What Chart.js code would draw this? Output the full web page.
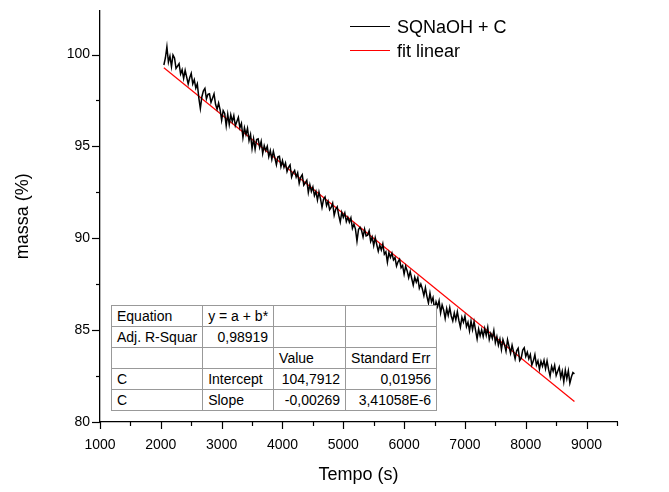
<!DOCTYPE html>
<html>
<head>
<meta charset="utf-8">
<script src="https://cdn.jsdelivr.net/npm/chart.js@4.4.1/dist/chart.umd.min.js"></script>
<style>
  body { margin: 0; background: #fff; font-family: "Liberation Sans", Arial, sans-serif; }
  #wrap { position: relative; width: 669px; height: 492px; }
  #legenda { position: absolute; left: 350px; top: 15px; font-size: 18px; color: #000; }
  .item { position: absolute; left: 0; height: 24px; width: 200px; }
  .linha { position: absolute; left: 0; top: 11px; width: 40px; border-top: 1px solid #000; }
  .txt { position: absolute; left: 47px; top: 0; line-height: 24px; white-space: nowrap; }
  #tabela { position: absolute; left: 111px; top: 305px; border-collapse: collapse; table-layout: fixed;
            font-size: 14px; background: #fff; border: 1.5px solid #333; }
  #tabela td { border: 1px solid #999; height: 20px; padding: 0 5px; white-space: nowrap; overflow: hidden; line-height: 20px; }
  #tabela td.num { text-align: right; }
</style>
</head>
<body>
<div id="wrap">
  <canvas id="grafico" width="669" height="492"></canvas>
  <div id="legenda"></div>
  <table id="tabela"></table>
</div>
<script>
// dados (tempo em s, massa em %)
const tempo = [
  2050, 2075, 2100, 2125, 2150, 2175, 2200, 2225, 2250, 2275,
  2300, 2325, 2350, 2375, 2400, 2425, 2450, 2475, 2500, 2525,
  2550, 2575, 2600, 2625, 2650, 2675, 2700, 2725, 2750, 2775,
  2800, 2825, 2850, 2875, 2900, 2925, 2950, 2975, 3000, 3025,
  3050, 3075, 3100, 3125, 3150, 3175, 3200, 3225, 3250, 3275,
  3300, 3325, 3350, 3375, 3400, 3425, 3450, 3475, 3500, 3525,
  3550, 3575, 3600, 3625, 3650, 3675, 3700, 3725, 3750, 3775,
  3800, 3825, 3850, 3875, 3900, 3925, 3950, 3975, 4000, 4025,
  4050, 4075, 4100, 4125, 4150, 4175, 4200, 4225, 4250, 4275,
  4300, 4325, 4350, 4375, 4400, 4425, 4450, 4475, 4500, 4525,
  4550, 4575, 4600, 4625, 4650, 4675, 4700, 4725, 4750, 4775,
  4800, 4825, 4850, 4875, 4900, 4925, 4950, 4975, 5000, 5025,
  5050, 5075, 5100, 5125, 5150, 5175, 5200, 5225, 5250, 5275,
  5300, 5325, 5350, 5375, 5400, 5425, 5450, 5475, 5500, 5525,
  5550, 5575, 5600, 5625, 5650, 5675, 5700, 5725, 5750, 5775,
  5800, 5825, 5850, 5875, 5900, 5925, 5950, 5975, 6000, 6025,
  6050, 6075, 6100, 6125, 6150, 6175, 6200, 6225, 6250, 6275,
  6300, 6325, 6350, 6375, 6400, 6425, 6450, 6475, 6500, 6525,
  6550, 6575, 6600, 6625, 6650, 6675, 6700, 6725, 6750, 6775,
  6800, 6825, 6850, 6875, 6900, 6925, 6950, 6975, 7000, 7025,
  7050, 7075, 7100, 7125, 7150, 7175, 7200, 7225, 7250, 7275,
  7300, 7325, 7350, 7375, 7400, 7425, 7450, 7475, 7500, 7525,
  7550, 7575, 7600, 7625, 7650, 7675, 7700, 7725, 7750, 7775,
  7800, 7825, 7850, 7875, 7900, 7925, 7950, 7975, 8000, 8025,
  8050, 8075, 8100, 8125, 8150, 8175, 8200, 8225, 8250, 8275,
  8300, 8325, 8350, 8375, 8400, 8425, 8450, 8475, 8500, 8525,
  8550, 8575, 8600, 8625, 8650, 8675, 8700, 8725, 8750, 8775,
  8800];

const massa = [
  99.43, 99.81, 100.42, 99.58, 99.91, 99.34, 99.97, 99.81, 99.24, 99.37,
  99.50, 98.94, 99.17, 98.70, 99.14, 98.77, 98.40, 98.73, 98.97, 98.40,
  98.63, 98.17, 98.40, 97.63, 97.06, 97.70, 98.03, 98.16, 97.59, 97.83,
  97.86, 97.39, 97.62, 97.86, 97.29, 97.02, 97.36, 96.99, 96.42, 96.95,
  96.79, 96.12, 96.75, 96.19, 96.72, 96.35, 96.68, 96.12, 96.35, 96.58,
  96.01, 96.25, 95.48, 96.01, 95.65, 95.98, 95.31, 95.64, 94.88, 95.41,
  94.84, 95.37, 95.41, 94.94, 95.27, 94.61, 95.04, 94.77, 95.00, 94.44,
  94.77, 94.30, 94.73, 94.37, 94.00, 94.43, 94.46, 93.90, 94.23, 93.86,
  94.10, 93.63, 93.86, 93.99, 93.33, 93.56, 93.69, 93.33, 93.56, 92.99,
  93.32, 93.46, 92.89, 93.02, 93.16, 92.49, 92.92, 92.55, 92.79, 92.32,
  92.55, 92.08, 92.52, 92.15, 91.68, 92.12, 92.25, 91.78, 92.01, 91.55,
  91.68, 91.91, 91.25, 91.58, 91.71, 91.24, 90.88, 91.41, 91.14, 91.38,
  90.91, 91.14, 90.87, 91.11, 90.54, 90.77, 90.50, 89.84, 90.47, 90.60,
  90.43, 90.07, 90.50, 90.13, 90.17, 90.40, 89.83, 90.06, 89.60, 90.03,
  89.66, 89.29, 89.63, 89.36, 89.69, 89.13, 89.26, 88.69, 89.22, 88.96,
  89.19, 88.82, 88.95, 88.49, 88.72, 88.85, 88.39, 88.52, 88.05, 88.48,
  88.22, 87.85, 88.18, 87.81, 87.45, 87.88, 87.61, 87.85, 87.28, 87.51,
  87.24, 86.88, 87.31, 86.84, 86.48, 87.01, 86.54, 86.77, 86.11, 86.54,
  86.27, 86.60, 85.94, 86.37, 86.10, 85.64, 86.17, 85.80, 86.23, 85.77,
  85.50, 85.93, 85.56, 86.00, 85.53, 85.16, 85.70, 85.43, 85.76, 85.19,
  85.43, 84.96, 85.49, 85.03, 85.46, 84.99, 84.52, 85.06, 84.69, 85.02,
  84.65, 85.09, 84.72, 85.15, 84.49, 84.82, 84.55, 84.98, 84.32, 84.65,
  84.18, 84.51, 83.95, 84.48, 84.21, 83.85, 84.48, 84.11, 83.74, 84.18,
  83.81, 83.44, 83.87, 84.01, 83.34, 83.47, 83.91, 84.04, 83.57, 83.80,
  83.44, 83.67, 83.10, 83.33, 83.67, 83.10, 83.33, 82.87, 83.30, 83.03,
  83.36, 82.90, 83.33, 82.86, 82.50, 83.03, 82.76, 83.09, 82.53, 82.76,
  82.99, 82.42, 82.76, 82.19, 82.82, 82.36, 82.79, 82.12, 82.45, 82.69,
  82.62];

// reta do ajuste linear (extremos)
const fitTempo = [2050, 8800];
const fitMassa = [99.28, 81.12];

const xTicks = [1000, 2000, 3000, 4000, 5000, 6000, 7000, 8000, 9000];
const xMinor = [1500, 2500, 3500, 4500, 5500, 6500, 7500, 8500, 9500];
const yTicks = [80, 85, 90, 95, 100];
const yMinor = [82.5, 87.5, 92.5, 97.5];

const series = ['SQNaOH + C', 'fit linear'];
const cores = ['#000000', '#ff0000'];

const tabela = [
  [['Equation', ''], ['y = a + b*', ''], ['', ''], ['', '']],
  [['Adj. R-Squar', ''], ['0,98919', 'num'], ['', ''], ['', '']],
  [['', ''], ['', ''], ['Value', ''], ['Standard Err', '']],
  [['C', ''], ['Intercept', ''], ['104,7912', 'num'], ['0,01956', 'num']],
  [['C', ''], ['Slope', ''], ['-0,00269', 'num'], ['3,41058E-6', 'num']]
];
const larguras = [90, 68, 72, 91];

// legenda
const leg = document.getElementById('legenda');
series.forEach((nome, i) => {
  const d = document.createElement('div');
  d.className = 'item';
  d.style.top = (i * 24) + 'px';
  d.innerHTML = '<span class="linha" style="border-color:' + cores[i] + '"></span><span class="txt">' + nome + '</span>';
  leg.appendChild(d);
});

// tabela do ajuste
const tab = document.getElementById('tabela');
const cg = document.createElement('colgroup');
larguras.forEach(w => { const c = document.createElement('col'); c.style.width = w + 'px'; cg.appendChild(c); });
tab.appendChild(cg);
tabela.forEach(linha => {
  const tr = document.createElement('tr');
  linha.forEach(cel => {
    const td = document.createElement('td');
    td.textContent = cel[0];
    if (cel[1]) td.className = cel[1];
    tr.appendChild(td);
  });
  tab.appendChild(tr);
});

// ticks (maiores e menores) desenhados pelas escalas
const marcas = {
  id: 'marcas',
  afterDraw(chart) {
    const ctx = chart.ctx;
    const x = chart.scales.x, y = chart.scales.y;
    ctx.save();
    ctx.strokeStyle = '#000';
    ctx.lineWidth = 1.2;
    const xt = (v, len) => {
      const px = Math.round(x.getPixelForValue(v)) + 0.5;
      ctx.beginPath(); ctx.moveTo(px, x.top); ctx.lineTo(px, x.top + len); ctx.stroke();
    };
    const yt = (v, len) => {
      const py = Math.round(y.getPixelForValue(v)) + 0.5;
      ctx.beginPath(); ctx.moveTo(y.right, py); ctx.lineTo(y.right - len, py); ctx.stroke();
    };
    xTicks.forEach(v => xt(v, 7));
    xMinor.forEach(v => xt(v, 4));
    yTicks.forEach(v => yt(v, 8));
    yMinor.forEach(v => yt(v, 4));
    ctx.restore();
  }
};

const fonte = '"Liberation Sans", Arial, sans-serif';

new Chart(document.getElementById('grafico'), {
  type: 'scatter',
  data: {
    datasets: [{
      label: series[0],
      data: tempo.map((t, i) => ({ x: t, y: massa[i] })),
      showLine: true,
      borderColor: cores[0],
      borderWidth: 1.5,
      pointRadius: 0,
      tension: 0
    }, {
      label: series[1],
      data: fitTempo.map((t, i) => ({ x: t, y: fitMassa[i] })),
      showLine: true,
      borderColor: cores[1],
      borderWidth: 1.2,
      pointRadius: 0
    }]
  },
  options: {
    responsive: false,
    devicePixelRatio: 1,
    animation: false,
    layout: { padding: { top: 7, right: 52, left: 0, bottom: 0 } },
    plugins: { legend: { display: false }, tooltip: { enabled: false } },
    scales: {
      x: {
        type: 'linear',
        min: 1000,
        max: 9500,
        afterFit: s => { s.height = 70; },
        afterBuildTicks: s => { s.ticks = xTicks.map(v => ({ value: v })); },
        grid: { drawOnChartArea: false, drawTicks: true, tickLength: 7, color: 'rgba(0,0,0,0)' },
        border: { display: true, color: '#000', width: 1.3 },
        ticks: { color: '#000', font: { family: fonte, size: 14 }, padding: 8, maxRotation: 0,
                 callback: v => String(v) },
        title: { display: true, text: 'Tempo (s)', color: '#000', font: { family: fonte, size: 18 }, padding: { bottom: 6 } }
      },
      y: {
        type: 'linear',
        min: 80,
        max: 102.4,
        afterFit: s => { s.width = 100; },
        afterBuildTicks: s => { s.ticks = yTicks.map(v => ({ value: v })); },
        grid: { drawOnChartArea: false, drawTicks: true, tickLength: 8, color: 'rgba(0,0,0,0)' },
        border: { display: true, color: '#000', width: 1.3 },
        ticks: { color: '#000', font: { family: fonte, size: 14 }, padding: 2, callback: v => String(v) },
        title: { display: true, text: 'massa (%)', color: '#000', font: { family: fonte, size: 18 }, padding: { top: 12 } }
      }
    }
  },
  plugins: [marcas]
});
</script>
</body>
</html>
